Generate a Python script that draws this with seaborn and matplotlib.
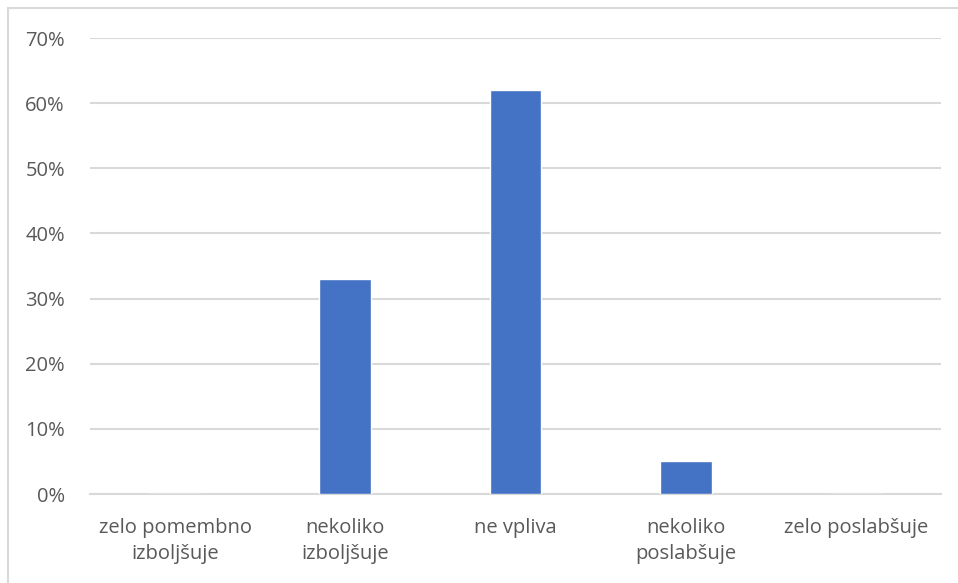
import matplotlib
matplotlib.use("Agg")
import matplotlib.pyplot as plt
import seaborn as sns
import pandas as pd
from matplotlib.patches import Rectangle

categories = ["zelo pomembno\nizboljšuje", "nekoliko\nizboljšuje", "ne vpliva",
              "nekoliko\nposlabšuje", "zelo poslabšuje"]
values = [0, 33, 62, 5, 0]
y_ticks = [0, 10, 20, 30, 40, 50, 60, 70]
y_tick_labels = [f"{t}%" for t in y_ticks]

df = pd.DataFrame({"cat": categories, "val": values})

sns.set_theme(style="white")
plt.rcParams['font.family'] = ['Open Sans', 'DejaVu Sans']

fig = plt.figure(figsize=(9.58, 5.83), dpi=100)
ax = fig.add_axes([90/958, 1-494/583, (941-90)/958, (494-38)/583])

sns.barplot(data=df, x="cat", y="val", color="#4472C4", width=0.305,
            saturation=1, ax=ax, zorder=3)

ax.set_ylim(0, 70)
ax.set_yticks(y_ticks)
ax.set_yticklabels(y_tick_labels)
ax.set_xlim(-0.5, 4.5)
ax.set_xlabel("")
ax.set_ylabel("")
ax.grid(axis="y", color="#d9d9d9", linewidth=1.5, zorder=0)
ax.grid(axis="x", visible=False)
for s in ["top", "right", "left"]:
    ax.spines[s].set_visible(False)
ax.spines["bottom"].set_color("#d9d9d9")
ax.spines["bottom"].set_linewidth(1.5)
ax.tick_params(axis="both", length=0, colors="#595959", labelsize=14.5)
ax.tick_params(axis="y", pad=18)
ax.tick_params(axis="x", pad=17)
for lbl in ax.get_xticklabels():
    lbl.set_linespacing(1.45)

fig.patches.append(Rectangle((8/958, -0.1), 1.2, 1 - 8/583 + 0.1,
                             transform=fig.transFigure, fill=False,
                             edgecolor="#d9d9d9", linewidth=1.5))

fig.savefig("out.png", dpi=100)
